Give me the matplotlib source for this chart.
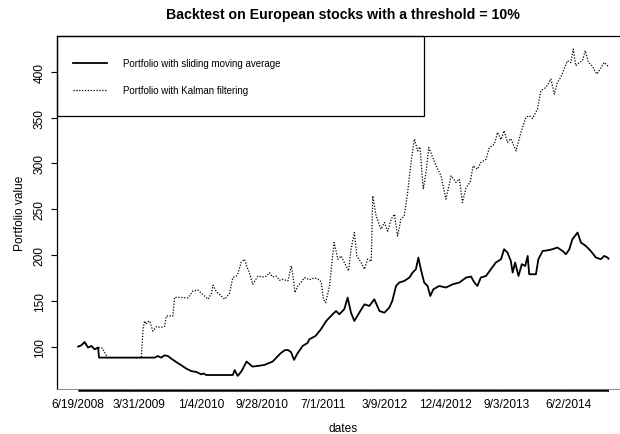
import numpy as np
import matplotlib
matplotlib.use("Agg")
import matplotlib.pyplot as plt
from matplotlib.patches import Rectangle

plt.rcParams['font.family'] = ['Liberation Sans', 'DejaVu Sans']

# ---- data (observation index -> portfolio value) ----
sliding_idx = [1, 11, 22, 33, 44, 55, 66, 69, 251, 261, 272, 283, 294, 305, 321, 338, 354, 370, 387,
               403, 410, 419, 506, 512, 522, 534, 551, 570, 590, 609, 636, 662, 675, 686, 696, 706,
               716, 725, 734, 750, 756, 776, 794, 811, 832, 843, 854, 870, 881, 892, 903, 919, 936,
               952, 968, 985, 1001, 1017, 1027, 1039, 1050, 1066, 1083, 1093, 1104, 1112, 1120, 1131,
               1142, 1151, 1161, 1180, 1202, 1224, 1246, 1268, 1284, 1295, 1305, 1316, 1333, 1349,
               1365, 1382, 1392, 1403, 1414, 1420, 1428, 1439, 1450, 1461, 1469, 1474, 1496, 1504,
               1518, 1533, 1550, 1566, 1583, 1594, 1605, 1615, 1632, 1643, 1659, 1675, 1692, 1708,
               1719, 1730, 1733]
sliding_val = [100, 101.4, 105, 99, 100.7, 97, 99, 88, 88, 89.7, 88, 90.5, 89.7, 86.9, 83.2, 79.6, 76,
               73.3, 72.3, 69.7, 70.8, 69, 69, 74.4, 68, 73, 83.7, 78.2, 79, 80, 83.7, 92.7, 96, 96.4,
               94, 85.5, 92, 96.4, 100.7, 104, 108, 111.6, 119, 128, 135.3, 138.9, 135.3, 140.8, 153.5,
               137, 128, 137, 146.2, 144.4, 151.7, 138.9, 137, 142.6, 150, 166.2, 170, 171.7, 175.4,
               180.8, 184.5, 197.2, 184.5, 170, 166.2, 155.3, 162.6, 166.2, 164.5, 168, 170, 175.4,
               176.5, 170, 166.2, 175.4, 177.1, 184.5, 191.8, 195.4, 206.3, 202.7, 193.5, 180.8, 191.8,
               177.1, 190, 188, 199, 179, 179, 195.4, 204.4, 205, 206.3, 208.2, 204.4, 200.8, 206.3,
               217.2, 224.5, 213.6, 209.9, 204.4, 197.2, 195.4, 199, 197.2, 196]

kalman_idx = [1, 11, 22, 33, 44, 55, 66, 74, 81, 88, 97, 207, 213, 218, 223, 228, 234, 245, 256, 272,
              283, 289, 310, 316, 343, 359, 376, 392, 408, 425, 436, 441, 452, 463, 479, 495, 506, 517,
              522, 533, 544, 555, 560, 571, 588, 603, 615, 626, 636, 648, 658, 669, 686, 697, 702, 709,
              718, 729, 740, 756, 773, 789, 795, 802, 809, 822, 832, 837, 849, 860, 870, 884, 892, 903,
              911, 925, 936, 946, 958, 963, 974, 990, 1001, 1012, 1023, 1034, 1044, 1055, 1066, 1077,
              1088, 1099, 1110, 1117, 1128, 1137, 1146, 1157, 1170, 1186, 1202, 1219, 1235, 1246, 1256,
              1268, 1281, 1291, 1305, 1316, 1333, 1344, 1360, 1371, 1382, 1392, 1403, 1414, 1431, 1447,
              1463, 1474, 1485, 1501, 1512, 1529, 1545, 1556, 1566, 1577, 1588, 1599, 1610, 1618, 1626,
              1637, 1648, 1657, 1668, 1679, 1695, 1708, 1719, 1730, 1733]
kalman_val = [100, 101.4, 104, 99, 100.7, 97, 99, 99, 98, 93, 88, 88, 120, 128, 124.4, 127, 128, 117,
              121.8, 121, 122, 133.4, 133.4, 154, 153.5, 153, 160.8, 161.8, 157, 151.7, 158, 167, 160,
              157, 151.7, 158, 175.4, 177, 179, 191.8, 195.4, 184.5, 180.8, 168, 177, 176, 177, 180.8,
              176, 177, 172.5, 173.5, 171.7, 188, 178, 159, 166, 170, 175.4, 173, 175, 173, 170, 151.7,
              148, 166.2, 199, 213.6, 195.4, 199, 191.8, 182.6, 206.3, 224.5, 199, 191.8, 184.5, 195.4,
              193, 264.5, 242.7, 228.2, 235.5, 226, 239, 244.5, 220.8, 239, 242.7, 268.3, 301, 326.5,
              313.7, 318, 271.9, 290, 317.4, 308.2, 297.3, 286.4, 261, 286.4, 279.2, 283, 257.3, 273.7,
              279.2, 297.3, 293.7, 301, 304.6, 317.4, 321, 333.8, 326, 335.6, 322.9, 327, 313.7, 333.8,
              350.2, 352, 349, 359.3, 379.3, 383, 392, 375.6, 388.4, 393.9, 403, 412, 410, 424.8, 406.6,
              410, 412, 423, 410, 406.6, 397.5, 404, 410.3, 406.6, 405]

date_labels = ["6/19/2008", "3/31/2009", "1/4/2010", "9/28/2010", "7/1/2011",
               "3/9/2012", "12/4/2012", "9/3/2013", "6/2/2014"]
label_step = 200
y_ticks = [100, 150, 200, 250, 300, 350, 400]

series_names = ["Portfolio with sliding moving average", "Portfolio with Kalman filtering"]

# ---- figure ----
fig = plt.figure(figsize=(6.2, 4.35), dpi=100)
ax = fig.add_axes([57 / 620, 45 / 435, 572.7 / 620, 353 / 435])

l1, = ax.plot(sliding_idx, sliding_val, color='black', lw=1.3, solid_joinstyle='round')
l2, = ax.plot(kalman_idx, kalman_val, color='black', lw=0.9, linestyle=(0, (1, 1.3)))

n = sliding_idx[-1]
xpad = 0.04 * (n - 1)
ax.set_xlim(1 - xpad, n + xpad)
allv = np.array(sliding_val + kalman_val)
ypad = 0.04 * (allv.max() - allv.min())
ax.set_ylim(allv.min() - ypad, allv.max() + ypad)

# x axis: a tick at every observation, labels every 200 observations
ax.set_xticks(np.arange(1, n + 1), minor=True)
ax.set_xticks([1 + label_step * k for k in range(len(date_labels))])
ax.set_xticklabels(date_labels, fontsize=8.6)
ax.tick_params(axis='x', which='both', direction='out', length=1.3, width=0.5, pad=5.5)

ax.set_yticks(y_ticks)
ax.set_yticklabels([str(v) for v in y_ticks], rotation=90, va='center', fontsize=8.6)
ax.tick_params(axis='y', which='major', direction='out', length=4, width=0.8, pad=4)

for s in ['left', 'top', 'bottom', 'right']:
    ax.spines[s].set_linewidth(0.9)
    ax.spines[s].set_color('black')
ax.spines['bottom'].set_color('#777777')
ax.spines['bottom'].set_linewidth(0.6)

ax.set_xlabel("dates", fontsize=8.6, labelpad=8)
ax.set_ylabel("Portfolio value", fontsize=8.6, labelpad=6)
fig.suptitle("Backtest on European stocks with a threshold = 10%", fontsize=10.2,
             fontweight='bold', x=(57 + 572.7 / 2) / 620, y=1 - 15 / 435, va='center')

# legend box
ax.add_patch(Rectangle((0, 0.7725), 0.6414, 0.2275, transform=ax.transAxes,
                       fill=False, edgecolor='black', lw=0.9, clip_on=False, zorder=5))
ax.legend([l1, l2], series_names, loc='upper left', bbox_to_anchor=(16 / 572.7, 1 - 22 / 353),
          frameon=False, fontsize=7, handlelength=3.5, handletextpad=1.6, labelspacing=1.8,
          borderpad=0, borderaxespad=0)

fig.savefig("out.png", dpi=100)
